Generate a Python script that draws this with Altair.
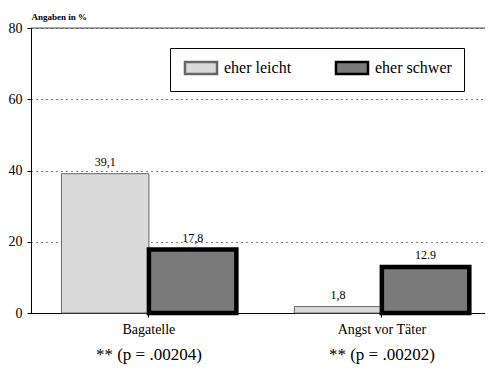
import altair as alt
import pandas as pd

categories = ["Bagatelle", "Angst vor Täter"]
groups = ["eher leicht", "eher schwer"]
values_leicht = [39.1, 1.8]
values_schwer = [17.8, 12.9]
labels_leicht = ["39,1", "1,8"]
labels_schwer = ["17,8", "12.9"]
p_labels = ["** (p = .00204)", "** (p = .00202)"]
y_ticks = [0, 20, 40, 60, 80]

rows = []
for i, c in enumerate(categories):
    rows.append({"cat": c, "group": groups[0], "value": values_leicht[i], "label": labels_leicht[i]})
    rows.append({"cat": c, "group": groups[1], "value": values_schwer[i], "label": labels_schwer[i]})
df = pd.DataFrame(rows)
df_p = pd.DataFrame({"cat": categories, "p": p_labels})

FONT = "Liberation Serif"
W, H = 454, 285

xscale = alt.Scale(domain=categories, paddingInner=0.249, paddingOuter=0.099, align=0.66)
x = alt.X("cat:N", scale=xscale, sort=categories,
          axis=alt.Axis(title=None, labelAngle=0, labelFont=FONT, labelFontSize=14,
                        labelColor="black", domainColor="black", tickColor="black",
                        tickSize=4, labelPadding=5, grid=False))
xo = alt.XOffset("group:N", scale=alt.Scale(domain=groups, paddingInner=0, paddingOuter=0))
y = alt.Y("value:Q", scale=alt.Scale(domain=[0, 80], nice=False),
          axis=alt.Axis(values=y_ticks, title="Angaben in %", titleAngle=0, titleX=0, titleY=-12,
                        titleAlign="left", titleBaseline="middle", titleFont=FONT,
                        titleFontSize=9, titleFontWeight="bold", titleColor="black",
                        labelFont=FONT, labelFontSize=14, labelColor="black",
                        domainColor="black", tickColor="black", tickSize=4, labelPadding=5,
                        grid=True, gridColor="black", gridDash=[1, 4], gridWidth=1))

legend = alt.Legend(title=None, orient="none", legendX=139, legendY=20,
                    direction="horizontal", labelFont=FONT, labelFontSize=16,
                    labelColor="black", symbolType="M-2.67,-1H2.67V1H-2.67Z",
                    symbolSize=144, symbolStrokeWidth=2.5, symbolOffset=11,
                    labelOffset=15, columnPadding=38, padding=12,
                    fillColor="white", strokeColor="black")

base = alt.Chart(df)

bars = base.mark_bar().encode(
    x=x, xOffset=xo, y=y,
    fill=alt.Fill("group:N", scale=alt.Scale(domain=groups, range=["#dadada", "#7a7a7a"]),
                  legend=legend),
    stroke=alt.Stroke("group:N", scale=alt.Scale(domain=groups, range=["#666666", "#000000"]),
                      legend=legend),
    strokeWidth=alt.condition(alt.datum.group == "eher schwer", alt.value(4.5), alt.value(1)),
)

texts = base.mark_text(baseline="bottom", dy=-5, font=FONT, fontSize=12, color="black").encode(
    x=alt.X("cat:N", scale=xscale, sort=categories), xOffset=xo,
    y=alt.Y("value:Q"), text="label:N")

ptext = alt.Chart(df_p).mark_text(baseline="middle", font=FONT, fontSize=17, color="black").encode(
    x=alt.X("cat:N", scale=xscale, sort=categories), y=alt.value(H + 42), text="p:N")

top = alt.Chart(pd.DataFrame({"v": [80]})).mark_rule(color="#555555", strokeWidth=1).encode(
    y=alt.Y("v:Q"))

chart = alt.layer(bars, texts, ptext, top).properties(
    width=W, height=H,
    autosize=alt.AutoSizeParams(type="none"),
    padding={"left": 23, "top": 20, "right": 0, "bottom": 54},
).configure_view(stroke=None).configure(background="white")

chart.save("out.html", embed_options={"renderer": "svg", "actions": False})
